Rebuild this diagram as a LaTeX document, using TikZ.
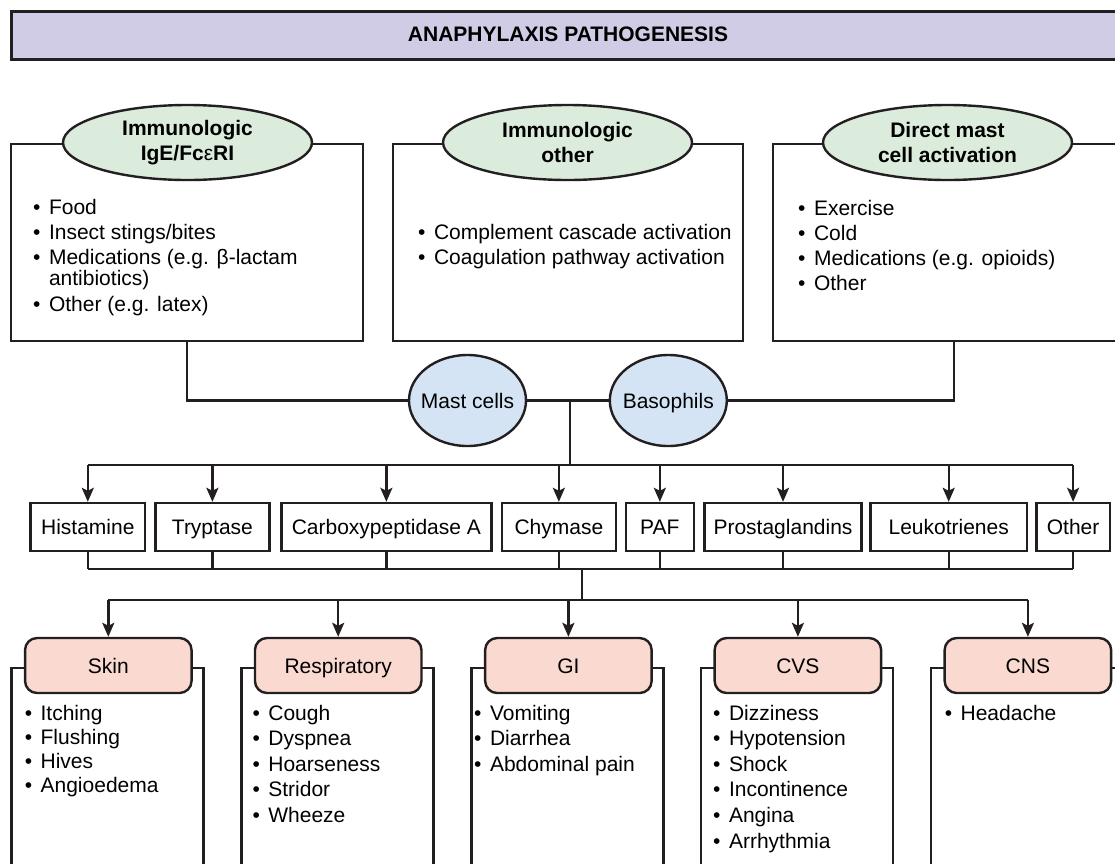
\documentclass[tikz,border=0pt]{standalone}
\usepackage{fontspec}
\setmainfont{Liberation Sans}
\usetikzlibrary{arrows.meta,shapes.geometric}
\definecolor{lav}{HTML}{D1CCE6}
\definecolor{mint}{HTML}{DCECDC}
\definecolor{sky}{HTML}{D4E4F5}
\definecolor{rose}{HTML}{FAD9D0}
\definecolor{ink}{HTML}{231F20}
\newcommand{\itembul}{\textbullet\hspace{8.5pt}}
\tikzset{
 every node/.style={font=\fontsize{21}{25}\selectfont, text=black},
 ln/.style={draw=ink, line width=2.4pt},
 frame/.style={ln, rectangle, inner sep=0pt, fill=white, anchor=north west},
 srcell/.style={ln, ellipse, fill=mint, minimum width=249pt, minimum height=75pt, inner sep=0pt, align=center, font=\fontsize{21}{25}\selectfont\bfseries},
 fixtext/.style={text height=15pt, text depth=0pt},
 cell/.style={ln, ellipse, fill=sky, minimum width=117pt, minimum height=91pt, inner sep=0pt, fixtext},
 med/.style={ln, rectangle, minimum height=48pt, inner sep=0pt, fill=white, fixtext},
 organ/.style={ln, rectangle, rounded corners=12pt, fill=rose, minimum width=166.5pt, minimum height=55pt, inner sep=0pt, fixtext},
 item/.style={anchor=base west, inner sep=0pt},
 arr/.style={ln, -{Stealth[length=14pt,width=12pt,inset=3pt]}},
}
\begin{document}
\begin{tikzpicture}[x=1pt,y=-1pt]
\useasboundingbox (0,0) rectangle (1115,863);
\clip (0,0) rectangle (1115,863);

% title
\node[ln, line width=3pt, fill=lav, minimum width=1120pt, minimum height=48pt, anchor=north west, inner sep=0pt] (title) at (10,10) {};
\node[font=\fontsize{21}{25}\selectfont\bfseries] (titletext) at (568,34) {ANAPHYLAXIS PATHOGENESIS};

% top boxes
\node[frame, minimum width=351.7pt, minimum height=197pt] (b1) at (10,143) {};
\node[frame, minimum width=350pt, minimum height=197pt] (b2) at (391.7,143) {};
\node[frame, minimum width=362.6pt, minimum height=197pt] (b3) at (771.7,143) {};

\node[srcell] (e1) at (187.5,142.5) {Immunologic\\IgE/Fc{\mdseries ε}RI};
\node[srcell] (e2) at (567.5,142.5) {Immunologic\\other};
\node[srcell] (e3) at (947.5,142.5) {Direct mast\\cell activation};

\node[item] (i11) at (33,214) {\itembul Food};
\node[item] (i12) at (33,239) {\itembul Insect stings/bites};
\node[item] (i13) at (33,264) {\itembul Medications (e.g. β-lactam};
\node[item] (i13b) at (33,285.5) {\phantom{\itembul}antibiotics)};
\node[item] (i14) at (33,311) {\itembul Other (e.g. latex)};

\node[item] (i21) at (418,239) {\itembul Complement cascade activation};
\node[item] (i22) at (418,264) {\itembul Coagulation pathway activation};

\node[item] (i31) at (798,215) {\itembul Exercise};
\node[item] (i32) at (798,240) {\itembul Cold};
\node[item] (i33) at (798,265) {\itembul Medications (e.g. opioids)};
\node[item] (i34) at (798,290) {\itembul Other};

% cells
\node[cell] (mast) at (467.5,400.5) {\makebox[0pt]{Mast cells}};
\node[cell] (baso) at (668.3,400.5) {\makebox[0pt]{Basophils}};

\draw[ln] (b1.south) |- (mast.west);
\draw[ln] (b3.south) |- (baso.east);
\draw[ln] (mast.east) -- (baso.west);
\coordinate (j1) at (570,400.5);
\coordinate (bus1) at (570,465);
\draw[ln] (j1) -- (bus1);

% mediators
\node[med, minimum width=114.4pt] (hist) at (87.8,527) {Histamine};
\node[med, minimum width=114pt] (tryp) at (212.4,527) {Tryptase};
\node[med, minimum width=210.1pt] (carb) at (386.35,527) {Carboxypeptidase A};
\node[med, minimum width=114.3pt] (chym) at (558.85,527) {Chymase};
\node[med, minimum width=68.3pt] (paf) at (659.85,527) {PAF};
\node[med, minimum width=157.2pt] (pros) at (783,527) {Prostaglandins};
\node[med, minimum width=156.6pt] (leuk) at (948.7,527) {Leukotrienes};
\node[med, minimum width=73.2pt] (oth) at (1073.1,527) {Other};

\draw[ln] (hist.north |- bus1) -- (oth.north |- bus1);
\foreach \n in {hist,tryp,carb,chym,paf,pros,leuk,oth}
  \draw[arr] (\n.north |- bus1) -- (\n.north);

\coordinate (bus2) at (582,569);
\coordinate (bus3) at (582,600);
\foreach \n in {hist,tryp,carb,chym,paf,pros,leuk,oth}
  \draw[ln] (\n.south) -- (\n.south |- bus2);
\draw[ln] (hist.south |- bus2) -- (oth.south |- bus2);
\draw[ln] (bus2) -- (bus3);

% organ frames
\node[frame, fill=none, minimum width=192pt, minimum height=260pt] (f1) at (10.3,667) {};
\node[frame, fill=none, minimum width=192pt, minimum height=260pt] (f2) at (240.2,667) {};
\node[frame, fill=none, minimum width=192pt, minimum height=260pt] (f3) at (470.4,667) {};
\node[frame, fill=none, minimum width=192pt, minimum height=260pt] (f4) at (699.9,667) {};
\node[frame, fill=none, minimum width=192pt, minimum height=260pt] (f5) at (929.9,667) {};

\node[organ] (skin) at (108.3,665.5) {Skin};
\node[organ] (resp) at (338.2,665.5) {Respiratory};
\node[organ] (gi) at (568.4,665.5) {GI};
\node[organ] (cvs) at (797.9,665.5) {CVS};
\node[organ] (cns) at (1027.9,665.5) {CNS};

\draw[ln] (skin.north |- bus3) -- (cns.north |- bus3);
\foreach \n in {skin,resp,gi,cvs,cns}
  \draw[arr] (\n.north |- bus3) -- (\n.north);

% organ items
\node[item] (s1) at (24.6,720) {\itembul Itching};
\node[item] (s2) at (24.6,744.3) {\itembul Flushing};
\node[item] (s3) at (24.6,768.6) {\itembul Hives};
\node[item] (s4) at (24.6,792.9) {\itembul Angioedema};

\node[item] (r1) at (252.3,720) {\itembul Cough};
\node[item] (r2) at (252.3,745.6) {\itembul Dyspnea};
\node[item] (r3) at (252.3,771.2) {\itembul Hoarseness};
\node[item] (r4) at (252.3,796.8) {\itembul Stridor};
\node[item] (r5) at (252.3,822.4) {\itembul Wheeze};

\node[item] (g1) at (474,720) {\itembul Vomiting};
\node[item] (g2) at (474,745.6) {\itembul Diarrhea};
\node[item] (g3) at (474,771.2) {\itembul Abdominal pain};

\node[item] (c1) at (713,720) {\itembul Dizziness};
\node[item] (c2) at (713,745.6) {\itembul Hypotension};
\node[item] (c3) at (713,771.2) {\itembul Shock};
\node[item] (c4) at (713,796.8) {\itembul Incontinence};
\node[item] (c5) at (713,822.4) {\itembul Angina};
\node[item] (c6) at (713,848) {\itembul Arrhythmia};

\node[item] (n1) at (944.6,720) {\itembul Headache};
\end{tikzpicture}
\end{document}
